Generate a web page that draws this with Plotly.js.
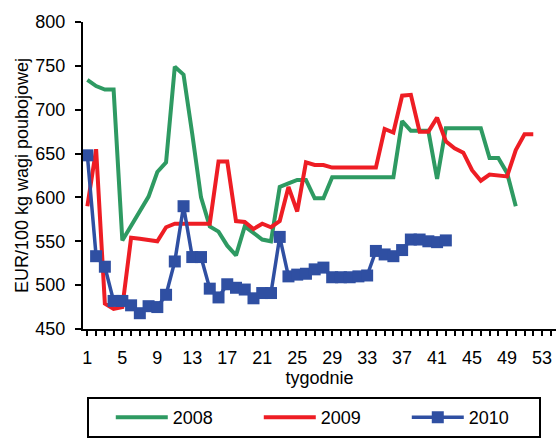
<!DOCTYPE html>
<html>
<head>
<meta charset="utf-8">
<script src="https://cdn.plot.ly/plotly-3.0.1.min.js"></script>
<style>html,body{margin:0;padding:0;background:#fff;}#chart{width:557px;height:439px;}</style>
</head>
<body>
<div id="chart"></div>
<script>
const seriesNames = ["2008", "2009", "2010"];
const values2008 = [734, 727, 723, 723, 551, 568, 585, 601, 629, 640, 749, 740, 672, 600, 567, 561, 545, 534, 567, 560, 552, 550, 612, 616, 620, 620, 599, 599, 623, 623, 623, 623, 623, 623, 623, 623, 687, 676, 676, 676, 621, 679, 679, 679, 679, 679, 645, 645, 628, 590];
const values2009 = [590, 655, 479, 473, 475, 554, 553, 551, 550, 566, 570, 570, 570, 570, 570, 641, 641, 573, 572, 564, 570, 566, 573, 612, 584, 640, 637, 637, 634, 634, 634, 634, 634, 634, 678, 674, 716, 717, 675, 675, 691, 664, 656, 651, 631, 619, 626, 625, 624, 654, 672, 672];
const values2010 = [648, 533, 521, 482, 482, 477, 468, 476, 475, 489, 527, 590, 532, 532, 496, 486, 501, 497, 495, 485, 491, 491, 555, 510, 512, 513, 518, 520, 509, 509, 509, 510, 511, 539, 535, 533, 540, 552, 552, 550, 549, 551];
const xTickLabels = ["1", "5", "9", "13", "17", "21", "25", "29", "33", "37", "41", "45", "49", "53"];
const yTickValues = [450, 500, 550, 600, 650, 700, 750, 800];

const weeks = arr => arr.map((_, i) => i + 1);
const FONT = "Liberation Sans, Arial, sans-serif";

const traces = [
  {x: weeks(values2008), y: values2008, name: seriesNames[0], type: "scatter", mode: "lines",
   line: {color: "#2e9a62", width: 4}},
  {x: weeks(values2009), y: values2009, name: seriesNames[1], type: "scatter", mode: "lines",
   line: {color: "#ee1d24", width: 4}},
  {x: weeks(values2010), y: values2010, name: seriesNames[2], type: "scatter", mode: "lines+markers",
   line: {color: "#2f4fa2", width: 3.5},
   marker: {symbol: "square", size: 12, color: "#2f4fa2"}, legendwidth: 65}
];

const layout = {
  width: 557, height: 439,
  margin: {l: 83, r: 1, t: 22, b: 107},
  paper_bgcolor: "#fff", plot_bgcolor: "#fff",
  font: {family: FONT, size: 18, color: "#000"},
  showlegend: true,
  legend: {
    orientation: "h", x: 0.008, xanchor: "left", y: -0.222, yanchor: "top",
    bordercolor: "#000", borderwidth: 2, bgcolor: "#fff",
    font: {family: FONT, size: 18, color: "#000"},
    itemwidth: 52, entrywidth: 59, entrywidthmode: "pixels", indentation: 22,
    traceorder: "normal"
  },
  xaxis: {
    range: [0.5, 54.6], showgrid: false, zeroline: false,
    showline: true, linecolor: "#000", linewidth: 2,
    tickmode: "array", tickvals: xTickLabels.map(Number), ticktext: xTickLabels,
    ticks: "outside", ticklen: 5, tickwidth: 2, tickcolor: "#000",
    ticklabelstandoff: 6,
    minor: {dtick: 1, tick0: 0, ticks: "outside", ticklen: 5, tickwidth: 2, tickcolor: "#000", showgrid: false},
    tickfont: {family: FONT, size: 18, color: "#000"},
    title: {text: "tygodnie", font: {family: FONT, size: 18, color: "#000"}, standoff: 0}
  },
  yaxis: {
    range: [450, 800], showgrid: false, zeroline: false,
    showline: true, linecolor: "#000", linewidth: 2,
    tickmode: "array", tickvals: yTickValues,
    ticks: "outside", ticklen: 6, tickwidth: 2, tickcolor: "#000",
    ticklabelstandoff: 6,
    tickfont: {family: FONT, size: 18, color: "#000"},
    title: {text: "EUR/100 kg wagi poubojowej", font: {family: FONT, size: 18, color: "#000"}, standoff: 2}
  }
};

Plotly.newPlot("chart", traces, layout, {displayModeBar: false, staticPlot: true});
</script>
</body>
</html>
